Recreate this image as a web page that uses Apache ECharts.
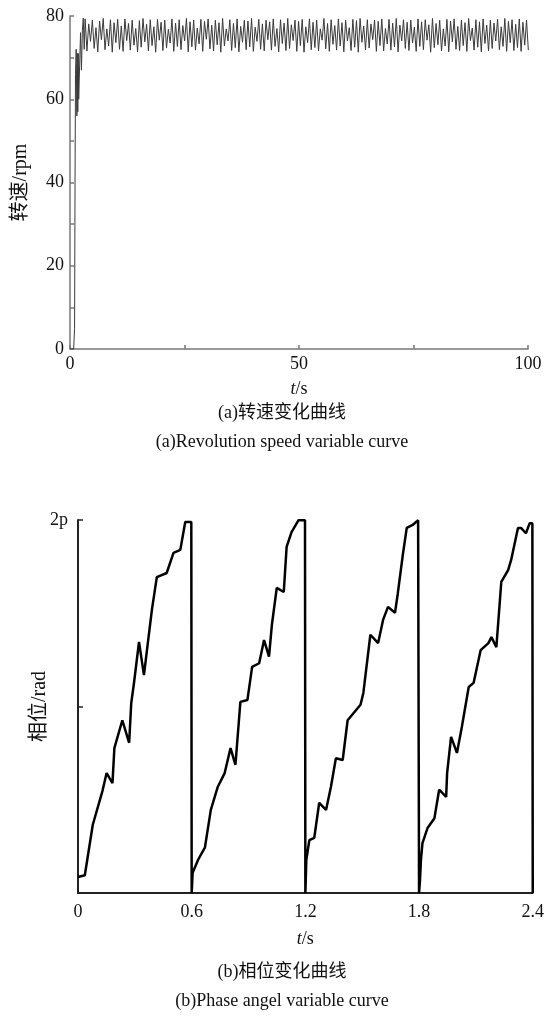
<!DOCTYPE html>
<html>
<head>
<meta charset="utf-8">
<script src="https://cdn.jsdelivr.net/npm/echarts@6/dist/echarts.min.js"></script>
<style>
html,body{margin:0;padding:0;background:#fff;}
#c{width:547px;height:1021px;}
</style>
</head>
<body>
<div id="c"></div>
<script>
// ---- Chart (a): revolution speed ----
const speedStartTimes = [0, 0.8, 1.0, 1.1, 1.2, 1.35, 1.5, 1.6, 1.7, 1.8, 1.9, 2.1, 2.3, 2.5, 2.7, 2.9, 3.1];
const speedStartValues = [0, 0, 5, 40, 66, 72, 56, 71, 57, 71, 60, 68, 76, 67, 76.5, 79.5, 72];
const speedOscStart = 3.3;   // s, first sample of the steady oscillation
const speedOscStep = 0.395;  // s, sample spacing of the steady oscillation
const speedOscValues = [
  79.3,71.6,78.1,73.9,79.0,72.2,77.2,71.4,78.8,74.3,79.4,71.9,76.9,72.8,79.1,71.3,78.4,73.6,79.2,72.0,
  77.6,71.5,79.3,74.1,78.2,71.8,79.0,73.0,77.0,71.4,78.9,72.5,79.4,73.8,78.0,71.6,79.1,72.9,77.4,71.3,
  79.2,74.2,78.5,71.7,79.0,72.3,76.8,73.5,79.3,71.5,78.3,72.7,79.1,71.9,77.7,74.0,79.4,71.4,78.6,72.6,
  79.0,71.8,77.1,73.3,79.2,71.5,78.7,74.4,79.3,72.1,77.8,71.6,79.0,73.1,78.4,71.3,79.4,72.8,76.9,74.0,
  79.1,71.7,78.2,72.4,79.3,71.4,77.5,73.7,79.0,71.9,78.8,72.6,79.4,71.5,77.3,73.9,79.2,72.0,78.1,71.6,
  79.0,74.3,78.6,71.8,79.3,72.7,77.0,71.4,79.1,73.4,78.3,71.7,79.4,72.2,77.9,74.1,79.0,71.5,78.7,72.9,
  79.2,71.3,77.4,73.6,79.3,71.9,78.5,72.4,79.0,71.6,76.9,74.2,79.4,72.1,78.2,71.5,79.1,73.2,77.7,71.8,
  79.3,72.8,78.4,71.4,79.0,74.0,77.2,71.7,79.2,72.5,78.9,71.3,79.4,73.7,77.6,71.9,79.1,72.3,78.1,74.3,
  79.0,71.5,78.7,72.9,79.3,71.6,77.0,73.3,79.2,71.8,78.3,72.6,79.4,71.4,77.8,74.0,79.1,72.2,78.5,71.7,
  79.0,73.5,77.3,71.5,79.3,72.7,78.6,71.9,79.1,74.2,77.9,71.3,79.4,72.4,78.2,73.1,79.0,71.6,76.9,72.8,
  79.2,71.4,78.8,73.8,79.3,72.0,77.5,71.7,79.0,72.9,78.4,71.5,79.4,74.1,77.1,71.8,79.1,72.5,78.6,71.4,
  79.3,73.4,77.8,71.6,79.0,72.2,78.3,74.0,79.2,71.9,77.4,72.7,79.4,71.5,78.7,73.6,79.1,71.7,78.0,72.4,
  79.3,71.5,78.5,73.0,79.0,71.8
];
const speedXTicks = [0, 50, 100];
const speedYTicks = [0, 20, 40, 60, 80];

// ---- Chart (b): phase angle ----
const phaseTimes = [
  0.000, 0.036, 0.078, 0.130, 0.151, 0.182, 0.192, 0.234, 0.270, 0.281, 0.296, 0.322, 0.348, 0.364, 0.390, 0.416, 0.468, 0.504, 0.540, 0.566, 0.598, 0.600,
  0.605, 0.634, 0.670, 0.701, 0.738, 0.774, 0.805, 0.831, 0.857, 0.894, 0.919, 0.956, 0.982, 1.008, 1.023, 1.049, 1.086, 1.101, 1.127, 1.164, 1.198, 1.200,
  1.205, 1.221, 1.247, 1.273, 1.309, 1.335, 1.361, 1.397, 1.423, 1.491, 1.506, 1.543, 1.584, 1.610, 1.636, 1.673, 1.688, 1.714, 1.735, 1.766, 1.795, 1.800,
  1.805, 1.810, 1.818, 1.844, 1.881, 1.906, 1.943, 1.948, 1.969, 2.000, 2.026, 2.062, 2.088, 2.125, 2.166, 2.182, 2.208, 2.234, 2.270, 2.286, 2.322, 2.338, 2.364, 2.384, 2.398, 2.400
];
const phaseValues = [
  0.27, 0.30, 1.15, 1.73, 2.02, 1.85, 2.44, 2.91, 2.53, 3.20, 3.55, 4.23, 3.67, 4.09, 4.77, 5.32, 5.39, 5.73, 5.78, 6.25, 6.25, 0.00,
  0.34, 0.56, 0.77, 1.40, 1.79, 2.02, 2.44, 2.16, 3.22, 3.25, 3.81, 3.87, 4.26, 3.98, 4.51, 5.14, 5.07, 5.83, 6.08, 6.28, 6.28, 0.00,
  0.56, 0.89, 0.93, 1.52, 1.40, 1.79, 2.27, 2.24, 2.91, 3.17, 3.37, 4.35, 4.21, 4.60, 4.82, 4.72, 5.05, 5.69, 6.15, 6.20, 6.28, 0.00,
  0.22, 0.56, 0.84, 1.09, 1.26, 1.74, 1.62, 2.02, 2.63, 2.36, 2.80, 3.47, 3.54, 4.09, 4.21, 4.31, 4.14, 5.24, 5.44, 5.61, 6.15, 6.15, 6.06, 6.23, 6.23, 0.00
];
const phaseXTicks = [0, 0.6, 1.2, 1.8, 2.4];
const phaseTopLabel = '2p';

// ---- build series data ----
const speedData = speedStartTimes.map((t, i) => [t, speedStartValues[i]]);
speedOscValues.forEach((v, i) => speedData.push([speedOscStart + i * speedOscStep, v]));
const phaseData = phaseTimes.map((t, i) => [t, phaseValues[i]]);

const SERIF = '"Liberation Serif", "Times New Roman", "Noto Sans CJK SC", serif';
const TWO_PI = 2 * Math.PI;

const chart = echarts.init(document.getElementById('c'), null, {renderer: 'canvas'});
chart.setOption({
  animation: false,
  backgroundColor: '#fff',
  grid: [
    {left: 70, top: 16, width: 458, height: 333},
    {left: 78, top: 520, width: 462, height: 373}
  ],
  xAxis: [
    {
      type: 'value', gridIndex: 0, min: 0, max: 100, interval: 25,
      name: '{i|t}/s', nameLocation: 'middle', nameGap: 31,
      nameTextStyle: {fontFamily: SERIF, fontSize: 18, color: '#111',
        rich: {i: {fontStyle: 'italic', fontFamily: SERIF, fontSize: 18, color: '#111'}}},
      axisLine: {lineStyle: {color: '#777', width: 1.5}},
      axisTick: {inside: true, length: 4, lineStyle: {color: '#777', width: 1.5}},
      splitLine: {show: false},
      axisLabel: {fontFamily: SERIF, fontSize: 18, color: '#111', margin: 6,
        formatter: v => speedXTicks.includes(v) ? String(v) : ''}
    },
    {
      type: 'value', gridIndex: 1, min: 0, max: 2.4, interval: 0.6,
      name: '{i|t}/s', nameLocation: 'middle', nameGap: 37,
      nameTextStyle: {fontFamily: SERIF, fontSize: 18, color: '#111',
        rich: {i: {fontStyle: 'italic', fontFamily: SERIF, fontSize: 18, color: '#111'}}},
      axisLine: {lineStyle: {color: '#222', width: 2}},
      axisTick: {show: false},
      splitLine: {show: false},
      axisLabel: {fontFamily: SERIF, fontSize: 18, color: '#111', margin: 10,
        formatter: v => {
          const m = phaseXTicks.find(t => Math.abs(t - v) < 1e-6);
          return m === undefined ? '' : String(m);
        }}
    }
  ],
  yAxis: [
    {
      type: 'value', gridIndex: 0, min: 0, max: 80, interval: 10,
      name: '转速/rpm', nameLocation: 'middle', nameGap: 39, nameRotate: 90,
      nameTextStyle: {fontFamily: SERIF, fontSize: 20, color: '#111'},
      axisLine: {show: true, lineStyle: {color: '#777', width: 1.5}},
      axisTick: {show: true, inside: true, length: 4, lineStyle: {color: '#777', width: 1.5}},
      splitLine: {show: false},
      axisLabel: {fontFamily: SERIF, fontSize: 18, color: '#111', margin: 6,
        formatter: v => speedYTicks.includes(v) ? String(v) : ''}
    },
    {
      type: 'value', gridIndex: 1, min: 0, max: TWO_PI, interval: Math.PI,
      name: '相位/rad', nameLocation: 'middle', nameGap: 28, nameRotate: 90, nameMoveOverlap: false,
      nameTextStyle: {fontFamily: SERIF, fontSize: 20, color: '#111'},
      axisLine: {show: true, lineStyle: {color: '#222', width: 2}},
      axisTick: {show: true, inside: true, length: 5, lineStyle: {color: '#222', width: 1.5}},
      splitLine: {show: false},
      axisLabel: {fontFamily: SERIF, fontSize: 18, color: '#111', margin: 10,
        formatter: v => Math.abs(v - TWO_PI) < 1e-6 ? phaseTopLabel : ''}
    }
  ],
  series: [
    {
      type: 'line', xAxisIndex: 0, yAxisIndex: 0, data: speedData,
      showSymbol: false, symbol: 'none', sampling: null,
      lineStyle: {color: '#3a3a3a', width: 1}
    },
    {
      type: 'line', xAxisIndex: 1, yAxisIndex: 1, data: phaseData,
      showSymbol: false, symbol: 'none',
      lineStyle: {color: '#000', width: 2.5}
    }
  ],
  graphic: [
    {type: 'text', x: 282, y: 413, style: {text: '(a)转速变化曲线', font: '18px ' + SERIF, fill: '#111', textAlign: 'center', textVerticalAlign: 'middle'}},
    {type: 'text', x: 282, y: 442, style: {text: '(a)Revolution speed variable curve', font: '18px ' + SERIF, fill: '#111', textAlign: 'center', textVerticalAlign: 'middle'}},
    {type: 'text', x: 282, y: 972, style: {text: '(b)相位变化曲线', font: '18px ' + SERIF, fill: '#111', textAlign: 'center', textVerticalAlign: 'middle'}},
    {type: 'text', x: 282, y: 1001, style: {text: '(b)Phase angel variable curve', font: '18px ' + SERIF, fill: '#111', textAlign: 'center', textVerticalAlign: 'middle'}}
  ]
});
</script>
</body>
</html>
